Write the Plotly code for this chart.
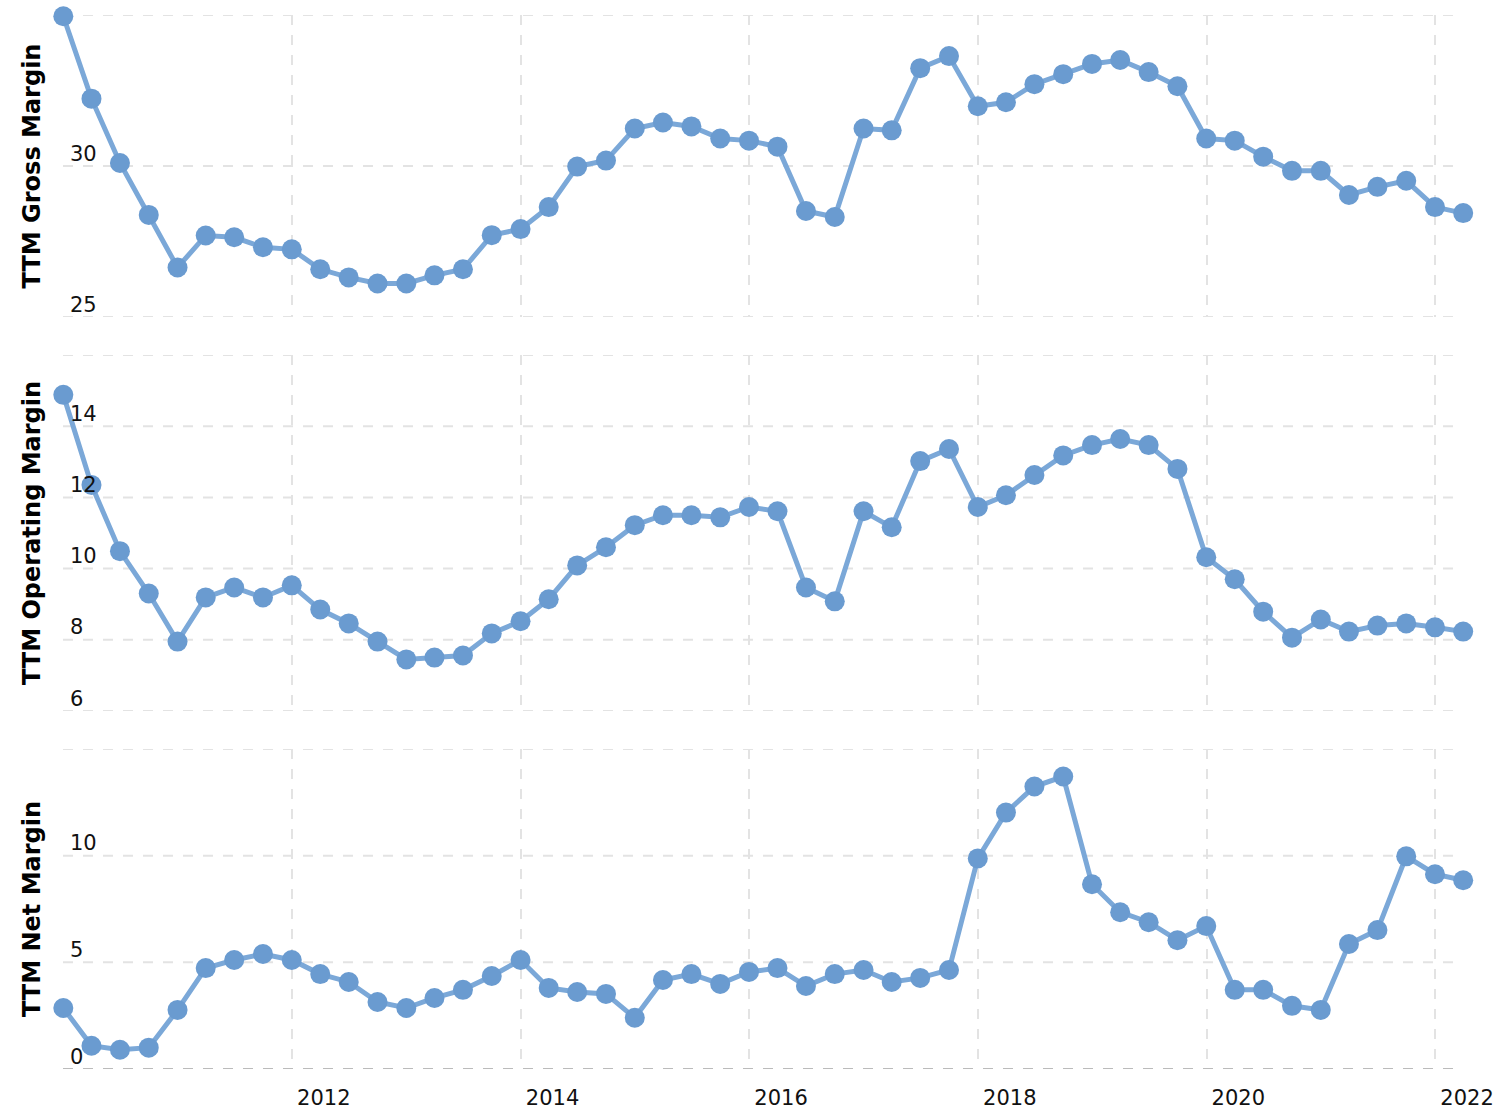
import plotly.graph_objects as go
import pandas as pd

dates = pd.date_range("2009-12-31", periods=50, freq="QE").strftime("%Y-%m-%d").tolist()

gross_margin = [34.96, 32.23, 30.10, 28.38, 26.64, 27.70, 27.64, 27.31, 27.24, 26.58,
                26.31, 26.11, 26.11, 26.38, 26.58, 27.71, 27.91, 28.64, 29.98, 30.18,
                31.24, 31.44, 31.31, 30.91, 30.84, 30.64, 28.51, 28.31, 31.24, 31.18,
                33.24, 33.64, 31.98, 32.11, 32.71, 33.04, 33.38, 33.51, 33.11, 32.64,
                30.91, 30.84, 30.31, 29.84, 29.84, 29.04, 29.31, 29.51, 28.64, 28.44]

operating_margin = [14.88, 12.35, 10.49, 9.30, 7.95, 9.19, 9.47, 9.19, 9.53, 8.85,
                    8.46, 7.95, 7.45, 7.50, 7.56, 8.18, 8.52, 9.14, 10.09, 10.60,
                    11.22, 11.50, 11.50, 11.44, 11.73, 11.61, 9.47, 9.08, 11.61, 11.16,
                    13.02, 13.36, 11.73, 12.06, 12.63, 13.18, 13.47, 13.64, 13.47, 12.80,
                    10.32, 9.70, 8.79, 8.06, 8.57, 8.23, 8.40, 8.46, 8.35, 8.23]

net_margin = [2.86, 1.09, 0.90, 1.00, 2.77, 4.73, 5.11, 5.39, 5.11, 4.45,
              4.08, 3.14, 2.86, 3.33, 3.71, 4.36, 5.11, 3.80, 3.61, 3.52,
              2.40, 4.17, 4.45, 3.99, 4.55, 4.73, 3.89, 4.45, 4.64, 4.08,
              4.27, 4.64, 9.87, 12.02, 13.24, 13.71, 8.66, 7.35, 6.88, 6.04,
              6.70, 3.71, 3.71, 2.96, 2.77, 5.86, 6.51, 9.97, 9.13, 8.85]

titles = ["TTM Gross Margin", "TTM Operating Margin", "TTM Net Margin"]
series = [gross_margin, operating_margin, net_margin]
y_ranges = [[25, 35], [6, 16], [0, 15]]
y_ticks = [[25, 30, 35], [6, 8, 10, 12, 14, 16], [0, 5, 10, 15]]
y_ticktext = [["25", "30", ""], ["6", "8", "10", "12", "14", ""], ["0", "5", "10", ""]]

x_ticks = ["2012-01-01", "2014-01-01", "2016-01-01", "2018-01-01", "2020-01-01", "2022-01-01"]
x_ticktext = ["2012", "2014", "2016", "2018", "2020", "2022"]
x_range = ["2009-12-30", "2022-04-25"]

H = 1054.0
domains = [[752 / H, 1.0], [358 / H, 714 / H], [0.0, 320 / H]]
grid_end = 1390 / 1407.5  # horizontal gridlines stop a little before the right edge

marker_color = "#6a9bd0"
line_color = "#7ba8d8"
grid_color = "#e3e3e3"
font_family = "DejaVu Sans"

fig = go.Figure()
layout = dict(
    width=1504, height=1118,
    margin=dict(l=63, r=33, t=15, b=49, autoexpand=False),
    paper_bgcolor="white", plot_bgcolor="white",
    showlegend=False,
    font=dict(family=font_family, color="#111111"),
)

shapes = []
for i in range(3):
    n = "" if i == 0 else str(i + 1)
    fig.add_trace(go.Scatter(
        x=dates, y=series[i], mode="lines+markers",
        xaxis="x" + n, yaxis="y" + n,
        line=dict(color=line_color, width=5),
        marker=dict(color=marker_color, size=20),
        cliponaxis=False,
    ))
    layout["xaxis" + n] = dict(
        domain=[0, 1], anchor="y" + n,
        range=x_range,
        tickvals=x_ticks, ticktext=x_ticktext,
        showticklabels=(i == 2),
        ticklabelposition="outside right",
        ticklabelshift=5, ticklabelstandoff=14,
        tickfont=dict(size=21, family=font_family, color="#111111"),
        showgrid=True, gridcolor=grid_color, griddash="10px,10px", gridwidth=2,
        showline=False, zeroline=False, ticks="", automargin=False,
        matches=None if i == 0 else "x",
    )
    layout["yaxis" + n] = dict(
        domain=domains[i], anchor="x" + n,
        range=y_ranges[i], tickvals=y_ticks[i], ticktext=y_ticktext[i],
        ticklabelposition="inside top",
        ticklabelshift=2, ticklabelstandoff=4,
        tickfont=dict(size=21, family=font_family, color="#111111"),
        showgrid=False, automargin=False,
        zeroline=False, showline=False, ticks="",
        title=dict(text="<b>" + titles[i] + "</b>",
                   font=dict(size=24, family=font_family, color="#000000"),
                   standoff=22),
    )
    for v in y_ticks[i]:
        is_base = (i == 2 and v == 0)
        shapes.append(dict(
            type="line", xref="x" + n + " domain", yref="y" + n,
            x0=0, x1=grid_end, y0=v, y1=v, layer="below",
            line=dict(color="#bbbbbb" if is_base else grid_color, width=2, dash="10px,10px"),
        ))

layout["shapes"] = shapes
fig.update_layout(**layout)

fig.write_html("out.html")
